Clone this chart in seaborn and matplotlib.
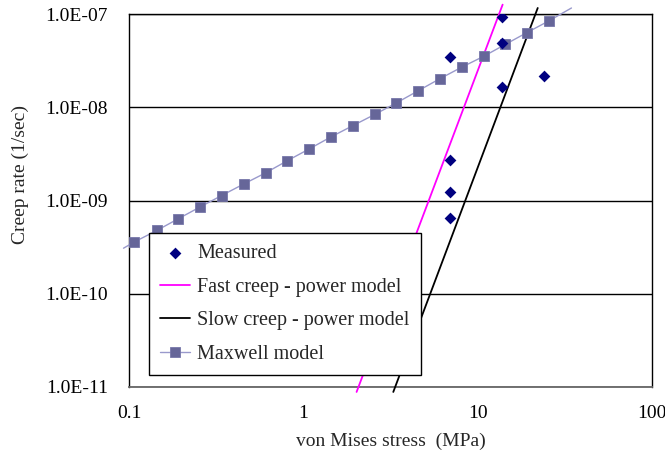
import numpy as np
import pandas as pd
import seaborn as sns
import matplotlib.pyplot as plt

sns.set_theme(style="white")
plt.rcParams['font.family'] = ['Liberation Serif', 'DejaVu Serif']

# measured creep rates
meas_stress = [6.94, 6.94, 6.94, 6.94, 13.7, 13.7, 13.7, 24.0]
meas_rate = [3.46e-8, 2.74e-9, 1.24e-9, 6.47e-10, 9.2e-8, 4.89e-8, 1.65e-8, 2.18e-8]

# power model lines (end points)
fast_stress = [2.02, 13.9]
fast_rate = [8.85e-12, 1.26e-7]
slow_stress = [3.28, 22.1]
slow_rate = [8.85e-12, 1.16e-7]

# Maxwell model (first and last entries are only line ends, no marker)
maxwell_stress = [0.093, 0.1075, 0.1444, 0.1916, 0.2549, 0.3396, 0.4541, 0.608, 0.809,
                  1.077, 1.435, 1.926, 2.566, 3.41, 4.55, 6.06, 8.13, 10.8, 14.4,
                  19.1, 25.5, 34.5]
maxwell_rate = [3.08e-10, 3.6e-10, 4.77e-10, 6.37e-10, 8.5e-10, 1.13e-9, 1.5e-9, 1.98e-9,
                2.67e-9, 3.56e-9, 4.79e-9, 6.36e-9, 8.37e-9, 1.11e-8, 1.5e-8, 2.02e-8,
                2.7e-8, 3.51e-8, 4.72e-8, 6.3e-8, 8.4e-8, 1.16e-7]

x_ticks = [0.1, 1, 10, 100]
x_tick_labels = ['0.1', '1', '10', '100']
y_ticks = [1e-11, 1e-10, 1e-9, 1e-8, 1e-7]
y_tick_labels = ['1.0E-11', '1.0E-10', '1.0E-09', '1.0E-08', '1.0E-07']

fig = plt.figure(figsize=(6.65, 4.70), dpi=100)
ax = fig.add_axes([0.194, 0.1766, 0.7865, 0.7936])
ax.set_xscale('log')
ax.set_yscale('log')

sns.scatterplot(x=meas_stress, y=meas_rate, marker='D', s=36, color='#000080',
                edgecolor='#000080', linewidth=0, label='Measured', ax=ax, zorder=4)
sns.lineplot(x=fast_stress, y=fast_rate, color='#FF00FF', lw=1.3,
             label='Fast creep - power model', ax=ax, clip_on=False, zorder=3)
sns.lineplot(x=slow_stress, y=slow_rate, color='black', lw=1.3,
             label='Slow creep - power model', ax=ax, clip_on=False, zorder=3)
sns.lineplot(x=maxwell_stress, y=maxwell_rate, color='#9999CC', lw=1.0,
             marker='s', markersize=7, markerfacecolor='#666699',
             markeredgecolor='#7777AA', markeredgewidth=0.6,
             markevery=list(range(1, len(maxwell_stress) - 1)),
             label='Maxwell model', ax=ax, clip_on=False, zorder=3)

ax.set_xlim(0.1, 100)
ax.set_ylim(1e-11, 1e-7)
ax.set_xticks(x_ticks)
ax.set_xticklabels(x_tick_labels)
ax.set_yticks(y_ticks)
ax.set_yticklabels(y_tick_labels)
ax.minorticks_off()
ax.tick_params(axis='x', direction='out', length=6, width=1, color='#555555',
               pad=7, labelsize=14, labelcolor='black')
ax.tick_params(axis='y', direction='out', length=6, width=1, color='black',
               pad=9, labelsize=14, labelcolor='black')
ax.yaxis.grid(True, color='black', lw=1)
ax.xaxis.grid(False)

for s in ['left', 'top', 'right']:
    ax.spines[s].set_color('black')
    ax.spines[s].set_linewidth(1)
ax.spines['bottom'].set_color('#666666')
ax.spines['bottom'].set_linewidth(1.3)

ax.set_xlabel('von Mises stress  (MPa)', fontsize=14)
ax.xaxis.set_label_coords(0.5, -0.145)
ax.xaxis.label.set_va('center')
ax.set_ylabel('Creep rate (1/sec)', fontsize=14)
ax.yaxis.set_label_coords(-0.207, 0.571)
ax.yaxis.label.set_va('center')

leg = ax.legend(loc='lower left', bbox_to_anchor=(0.038, 0.032), borderaxespad=0,
                fontsize=14.5, frameon=True, fancybox=False, edgecolor='black',
                labelspacing=0.72, handlelength=1.5, handletextpad=0.35, borderpad=0.55)
leg.get_frame().set_linewidth(1)
leg.get_frame().set_alpha(1)

fig.savefig('out.png', dpi=100)
